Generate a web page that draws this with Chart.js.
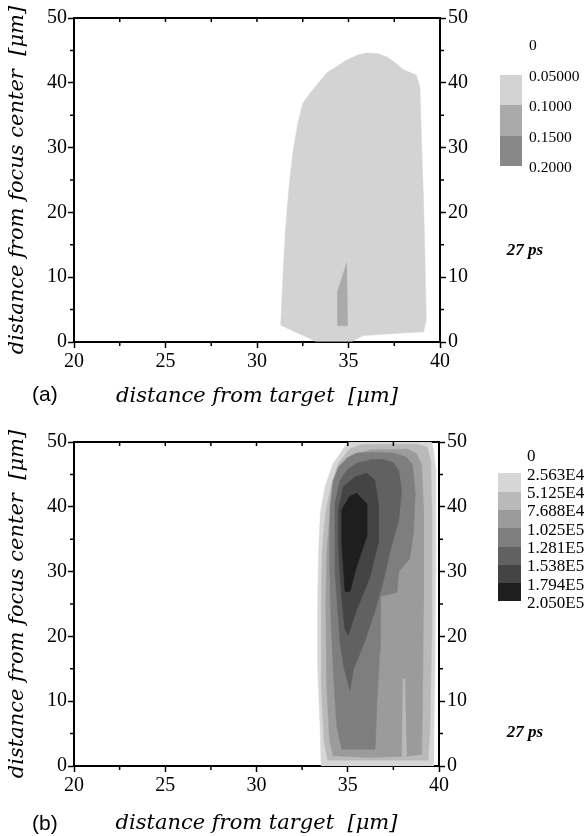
<!DOCTYPE html>
<html lang="en">
<head>
<meta charset="UTF-8">
<script src="https://cdn.jsdelivr.net/npm/chart.js@4.4.1/dist/chart.umd.min.js"></script>
<title>Contour panels</title>
<style>
  body { margin: 0; background: #fff; }
  canvas { position: absolute; left: 0; }
</style>
</head>
<body>
<canvas id="chartA" width="587" height="418" style="top:0"></canvas>
<canvas id="chartB" width="587" height="418" style="top:418px"></canvas>
<script>
// axis ticks
const xTicks = [20, 25, 30, 35, 40];
const xMinorTicks = [22.5, 27.5, 32.5, 37.5];
const yTicks = [0, 10, 20, 30, 40, 50];
const yMinorTicks = [5, 15, 25, 35, 45];

const timeLabel = '27 ps';

// (a) levels and filled regions, [distance from target, distance from focus center]
const levelsA = ['0', '0.05000', '0.1000', '0.1500', '0.2000'];
const shadesA = ['#ffffff', '#d3d3d3', '#aaaaaa', '#888888'];
const regionA1 = [[31.3, 2.6], [31.4, 9], [31.55, 17], [31.75, 24], [31.98, 29.6], [32.25, 34], [32.5, 36.8],
  [32.9, 38.4], [33.8, 41.5], [34.9, 43.5], [35.5, 44.3], [36.0, 44.6], [36.6, 44.5], [37.1, 44.0], [37.6, 43.0],
  [38.0, 42.0], [38.7, 41.2], [38.9, 39.4], [39.0, 30], [39.1, 21.9], [39.2, 10], [39.25, 3.4], [39.1, 1.6],
  [37.5, 1.3], [35.8, 1.0], [35.2, 0.1], [33.2, 0.1], [31.3, 2.6]];
const regionA2 = [[34.4, 2.5], [34.4, 7.8], [34.9, 12.2], [34.95, 2.5], [34.4, 2.5]];

// (b) levels and filled regions
const levelsB = ['0', '2.563E4', '5.125E4', '7.688E4', '1.025E5', '1.281E5', '1.538E5', '1.794E5', '2.050E5'];
const shadesB = ['#ffffff', '#d6d6d6', '#b9b9b9', '#9b9b9b', '#7e7e7e', '#616161', '#444444', '#1e1e1e'];
const regionB1 = [[33.55, -1], [33.5, 5], [33.35, 15], [33.35, 25], [33.4, 33], [33.5, 39], [33.75, 43.1],
  [34.2, 46.7], [34.9, 49.5], [35.3, 51], [39.5, 51], [39.7, 48.8], [39.8, 46], [39.82, 30], [39.78, 15],
  [39.72, 5], [39.7, -1], [33.55, -1]];
const regionB2 = [[33.9, 0.9], [33.7, 4], [33.55, 12], [33.55, 25], [33.6, 33], [33.75, 38], [33.85, 40],
  [34.12, 43.6], [34.48, 46.7], [35.12, 49.0], [35.8, 49.6], [38.8, 49.7], [39.35, 49.2], [39.55, 47],
  [39.6, 40], [39.6, 20], [39.5, 5], [39.4, 0.9], [33.9, 0.9]];
const regionB3 = [[34.2, 1.6], [34.0, 4], [33.85, 12], [33.8, 25], [33.85, 33], [34.0, 38], [34.2, 41.5],
  [34.4, 43.5], [34.76, 45.7], [35.49, 48.2], [36.3, 48.8], [38.3, 48.9], [38.77, 48.2], [39.05, 46.5],
  [39.15, 40], [39.15, 25], [39.1, 10], [39.05, 1.8], [38.25, 1.5], [38.15, 13.5], [38.0, 13.5], [37.95, 1.5],
  [36.2, 1.3], [34.2, 1.6]];
const regionB4 = [[34.67, 2.6], [34.4, 6], [34.2, 15], [34.05, 25], [34.0, 33], [34.03, 40], [34.2, 44],
  [34.5, 46.2], [35.0, 47.6], [35.49, 48.3], [36.5, 48.4], [37.5, 48.3], [38.2, 47.7], [38.55, 46.5],
  [38.7, 42], [38.6, 36], [38.4, 32], [37.8, 30], [37.7, 26.8], [36.8, 26.2], [36.77, 18], [36.6, 10],
  [36.5, 2.6], [34.67, 2.6]];
const regionB5 = [[35.12, 11.7], [34.8, 15], [34.58, 18.9], [34.39, 26.6], [34.3, 30], [34.3, 40.5],
  [34.58, 44.1], [35.0, 45.8], [35.49, 46.7], [36.3, 47.3], [36.95, 47.3], [37.5, 46.8], [37.8, 45.5],
  [37.95, 42.5], [37.8, 38], [37.4, 34], [36.9, 28], [36.5, 24], [35.9, 19], [35.3, 14.8], [35.12, 11.7]];
const regionB6 = [[35.03, 20.2], [34.85, 21.0], [34.7, 25], [34.58, 29.2], [34.48, 35], [34.48, 39.5],
  [34.76, 43.1], [35.4, 44.6], [36.04, 45.2], [36.49, 44.1], [36.68, 40.5], [36.68, 34.4], [36.22, 29.2],
  [35.49, 24.1], [35.03, 20.2]];
const regionB7 = [[34.85, 26.9], [34.67, 34.4], [34.67, 39.5], [34.76, 40.0], [35.1, 41.6], [35.49, 42.1],
  [36.04, 40.5], [36.04, 35.4], [35.49, 30.8], [35.12, 26.9], [34.85, 26.9]];

const tickFont = { family: '"Liberation Serif", serif', size: 20 };
const titleFont = { family: '"DejaVu Serif", serif', size: 21, style: 'italic' };
const axisLine = { color: '#000', width: 2 };

// minor ticks outside, plus inward ticks along the top edge
const tickMarks = {
  id: 'tickMarks',
  afterDraw(chart) {
    const { ctx, chartArea: a, scales } = chart;
    ctx.save();
    ctx.strokeStyle = '#000';
    ctx.lineWidth = 1.5;
    ctx.beginPath();
    xMinorTicks.forEach(v => {
      const px = scales.x.getPixelForValue(v);
      ctx.moveTo(px, a.bottom); ctx.lineTo(px, a.bottom + 4);
    });
    xTicks.slice(1, -1).concat(xMinorTicks).forEach(v => {
      const px = scales.x.getPixelForValue(v);
      ctx.moveTo(px, a.top); ctx.lineTo(px, a.top + 4);
    });
    yMinorTicks.forEach(v => {
      const py = scales.y.getPixelForValue(v);
      ctx.moveTo(a.left - 4, py); ctx.lineTo(a.left, py);
      ctx.moveTo(a.right, py); ctx.lineTo(a.right + 4, py);
    });
    ctx.stroke();
    ctx.restore();
  }
};

// stepped colour key, time stamp and panel letter
const colorKey = {
  id: 'colorKey',
  afterDraw(chart, args, o) {
    const ctx = chart.ctx;
    ctx.save();
    o.shades.forEach((c, i) => {
      const y0 = Math.round(o.barTop + i * o.bandH);
      const y1 = Math.round(o.barTop + (i + 1) * o.bandH);
      ctx.fillStyle = c;
      ctx.fillRect(o.barX, y0, o.barW, y1 - y0);
    });
    ctx.fillStyle = '#000';
    ctx.textAlign = 'left';
    ctx.textBaseline = 'middle';
    ctx.font = o.labelSize + 'px "Liberation Serif"';
    o.levels.forEach((t, i) => ctx.fillText(t, o.labelX, o.barTop + i * o.bandH + 2));
    ctx.font = 'italic bold 17px "Liberation Serif"';
    ctx.textAlign = 'center';
    ctx.fillText(timeLabel, o.timeX, o.timeY);
    ctx.font = '21px "Liberation Sans"';
    ctx.textAlign = 'left';
    ctx.fillText(o.tag, 32, o.tagY);
    ctx.restore();
  }
};

const makeChart = (id, regions, shades, key, box) => {
  const datasets = regions.map((pts, i) => ({
    data: pts.map(([x, y]) => ({ x, y })),
    showLine: true,
    fill: 'shape',
    backgroundColor: shades[i + 1],
    borderColor: shades[i + 1],
    borderWidth: 0.5,
    pointRadius: 0,
    order: regions.length - i
  }));
  const tickGrid = { drawOnChartArea: false, tickLength: 6, tickWidth: 1.5, tickColor: '#000' };
  return new Chart(document.getElementById(id), {
    type: 'scatter',
    data: { datasets },
    options: {
      responsive: false,
      animation: false,
      devicePixelRatio: 1,
      layout: { padding: 0, autoPadding: false },
      plugins: { legend: { display: false }, tooltip: { enabled: false }, colorKey: key },
      scales: {
        x: {
          type: 'linear', position: 'bottom', min: 20, max: 40,
          afterBuildTicks: s => { s.ticks = xTicks.map(value => ({ value })); },
          afterFit: s => { s.height = box.bottomH; },
          ticks: { color: '#000', font: tickFont, padding: 2, maxRotation: 0, autoSkip: false },
          grid: tickGrid,
          border: axisLine,
          title: { display: true, text: 'distance from target  [μm]', color: '#000', font: titleFont,
                   padding: { top: 0, bottom: box.titlePad } }
        },
        xTop: {
          type: 'linear', position: 'top', min: 20, max: 40,
          afterFit: s => { s.height = box.topH; },
          ticks: { display: false },
          grid: { drawOnChartArea: false, drawTicks: false },
          border: axisLine
        },
        y: {
          type: 'linear', position: 'left', min: 0, max: 50,
          afterBuildTicks: s => { s.ticks = yTicks.map(value => ({ value })); },
          afterFit: s => { s.width = 74; },
          ticks: { color: '#000', font: tickFont, padding: 1 },
          grid: tickGrid,
          border: axisLine,
          title: { display: true, text: 'distance from focus center  [μm]', color: '#000', font: titleFont,
                   padding: { top: 5, bottom: 0 } }
        },
        yRight: {
          type: 'linear', position: 'right', min: 0, max: 50,
          afterBuildTicks: s => { s.ticks = yTicks.map(value => ({ value })); },
          afterFit: s => { s.width = box.rightW; },
          ticks: { color: '#000', font: tickFont, padding: 2 },
          grid: tickGrid,
          border: axisLine
        }
      }
    },
    plugins: [tickMarks, colorKey]
  });
};

makeChart('chartA', [regionA1, regionA2], shadesA,
  { levels: levelsA, shades: shadesA, barX: 500, barW: 22, barTop: 44, bandH: 30.5, labelX: 529, labelSize: 15.5,
    timeX: 525, timeY: 251, tag: '(a)', tagY: 395 },
  { topH: 18, bottomH: 76, rightW: 147, titlePad: 9 });

makeChart('chartB', [regionB1, regionB2, regionB3, regionB4, regionB5, regionB6, regionB7], shadesB,
  { levels: levelsB, shades: shadesB, barX: 498, barW: 23, barTop: 37, bandH: 18.3, labelX: 527, labelSize: 17,
    timeX: 525, timeY: 315, tag: '(b)', tagY: 406 },
  { topH: 24, bottomH: 70, rightW: 148, titlePad: 0 });
</script>
</body>
</html>
